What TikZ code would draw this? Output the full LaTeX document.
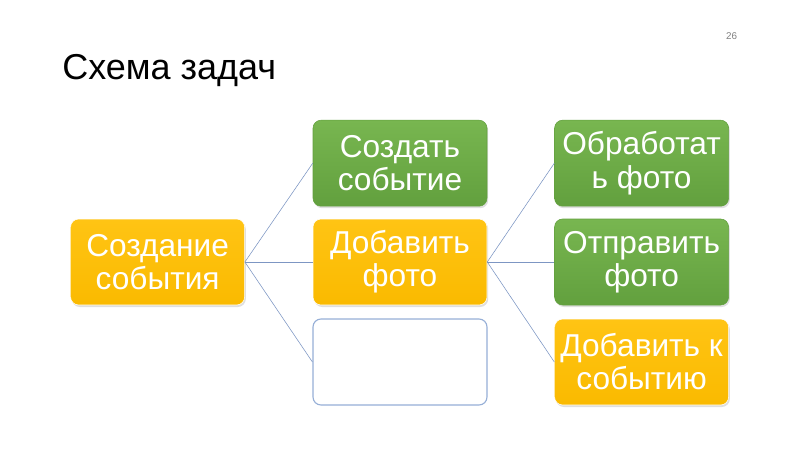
\documentclass[tikz,border=0pt]{standalone}
\usepackage{fontspec}
\setmainfont{Liberation Sans}
\usetikzlibrary{positioning,shadows}
\definecolor{orangeA}{RGB}{255,196,20}
\definecolor{orangeB}{RGB}{250,186,0}
\definecolor{greenA}{RGB}{120,182,80}
\definecolor{greenB}{RGB}{98,160,62}
\definecolor{lineC}{RGB}{125,150,195}
\definecolor{edgeE}{RGB}{150,175,215}
\tikzset {
    style Y/.style={
        top color=orangeA,
        bottom color=orangeB,
        draw=orangeB,
        color=white,
        rectangle, % Set the shape as a rectangle
        rounded corners=.2cm,
        minimum width=4.35cm,
        minimum height=2.15cm,
        align=center,
        drop shadow={opacity=0.25, shadow xshift=0.03cm, shadow yshift=-0.05cm},
    },
    style G/.style={
        style Y,
        top color=greenA,
        bottom color=greenB,
        draw=greenB,
    },
    style E/.style={
        fill=white,
        draw=edgeE,
        thick,
        rectangle, % Set the shape as a rectangle
        rounded corners=.2cm,
        minimum width=4.35cm,
        minimum height=2.15cm,
    },
}

\begin{document}
\begin{tikzpicture}
        [font=\fontsize{22.5}{23.5}\selectfont, link/.style={draw=lineC, thin}]

        \useasboundingbox (0,0) rectangle (20,11.25);

        \node[anchor=base west, inner sep=0pt, font=\fontsize{25.6}{30}\selectfont] at (1.55,9.27) (title) {Схема задач};
        \node[anchor=east, text=gray, font=\fontsize{7}{8}\selectfont] at (18.55,10.35) (page) {26};

        \node[style Y] at (3.94,4.7) (event) {Создание\\события};

        \node[style G] at (10.0,7.17) (create) {Создать\\событие};
        \node[style Y] at (10.0,4.7) (photo) {Добавить\\фото};
        \node[style E] at (10.0,2.2) (empty) {};

        \node[style G] at (16.04,7.17) (process) {Обработат\\ь фото};
        \node[style G] at (16.04,4.7) (send) {Отправить\\фото};
        \node[style Y] at (16.04,2.2) (attach) {Добавить к\\событию};

        \draw[link] (event.east) -- (create.west);
        \draw[link] (event.east) -- (photo.west);
        \draw[link] (event.east) -- (empty.west);

        \draw[link] (photo.east) -- (process.west);
        \draw[link] (photo.east) -- (send.west);
        \draw[link] (photo.east) -- (attach.west);
    \end{tikzpicture}
\end{document}
